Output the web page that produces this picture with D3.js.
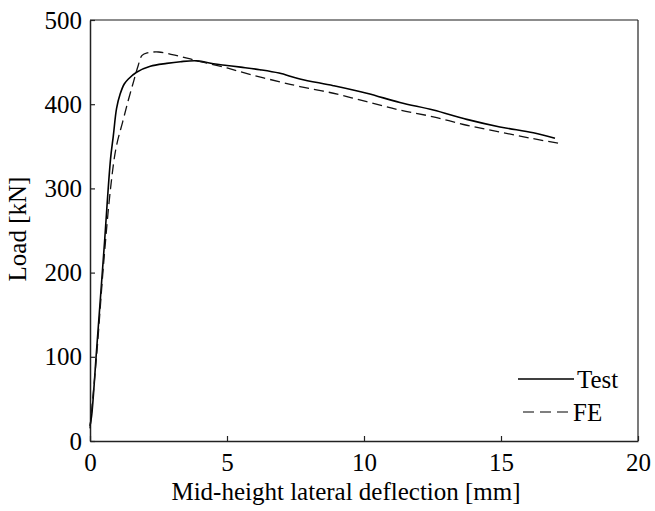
<!DOCTYPE html>
<html><head><meta charset="utf-8">
<script src="https://cdn.jsdelivr.net/npm/d3@7"></script>
<style>body{margin:0;background:#fff}</style>
</head><body>
<svg id="c" width="655" height="511"></svg>
<script>
const testX = [0, 0.06, 0.24, 0.51, 0.75, 0.85, 0.97, 1.1, 1.25, 1.4, 1.7, 2.2, 2.8, 3.3, 3.9, 4.5, 5.0, 5.5, 6.2, 6.9, 7.66, 8.88, 10.1, 11.31, 12.53, 13.75, 14.96, 16.18, 16.97];
const testY = [18, 30, 108, 227, 335, 362, 395, 412, 424, 430, 438, 445, 448.5, 450.5, 451.5, 448, 446, 444, 441, 437, 430, 422, 413, 402, 393, 382, 373, 366, 359.5];
const feX = [0, 0.25, 0.5, 0.75, 0.95, 1.2, 1.4, 1.6, 1.76, 1.9, 2.1, 2.5, 3.0, 3.5, 4.0, 5.0, 6.0, 7.0, 7.66, 8.88, 10.1, 11.31, 12.53, 13.75, 14.96, 16.18, 17.2];
const feY = [15, 105, 212, 300, 348, 380, 405, 428, 446, 458, 461, 462, 459, 455, 451, 443, 434, 426, 421, 413, 403, 393, 385, 375, 367, 359, 353];
const xTicks = [0, 5, 10, 15, 20];
const yTicks = [0, 100, 200, 300, 400, 500];
const seriesNames = ["Test", "FE"];

const svg = d3.select("#c");
const font = "Liberation Serif, Times New Roman, serif";
const L = 90, R = 638, T = 20, B = 441;
const x = d3.scaleLinear().domain([0, 20]).range([L, R]);
const y = d3.scaleLinear().domain([0, 500]).range([B, T]);

// box
svg.append("line").attr("x1", L).attr("x2", R).attr("y1", T).attr("y2", T).attr("stroke", "#666").attr("stroke-width", 1.5);
svg.append("line").attr("x1", R).attr("x2", R).attr("y1", T).attr("y2", B).attr("stroke", "#222").attr("stroke-width", 1.2);

const xAxis = svg.append("g").attr("transform", `translate(0,${B})`)
  .call(d3.axisBottom(x).tickValues(xTicks).tickSizeInner(-5).tickSizeOuter(0).tickPadding(12));
const yAxis = svg.append("g").attr("transform", `translate(${L},0)`)
  .call(d3.axisLeft(y).tickValues(yTicks).tickSizeInner(-5).tickSizeOuter(0).tickPadding(8));
[xAxis, yAxis].forEach(a => {
  a.select(".domain").attr("stroke", "#222").attr("stroke-width", 1.5);
  a.selectAll(".tick line").attr("stroke", "#222").attr("stroke-width", 1.2);
  a.selectAll("text").attr("font-family", font).attr("font-size", 25).attr("fill", "#000");
});

const testData = testX.map((v, i) => [v, testY[i]]);
const feData = feX.map((v, i) => [v, feY[i]]);
svg.append("path").datum(testData).attr("d", d3.line().x(d => x(d[0])).y(d => y(d[1])).curve(d3.curveCatmullRom))
  .attr("fill", "none").attr("stroke", "#000").attr("stroke-width", 1.6);
svg.append("path").datum(feData).attr("d", d3.line().x(d => x(d[0])).y(d => y(d[1])).curve(d3.curveCatmullRom))
  .attr("fill", "none").attr("stroke", "#111").attr("stroke-width", 1.3).attr("stroke-dasharray", "10,5");

// axis titles
svg.append("text").attr("x", 346).attr("y", 500).attr("text-anchor", "middle")
  .attr("font-family", font).attr("font-size", 25).text("Mid-height lateral deflection [mm]");
svg.append("text").attr("transform", `translate(26,229) rotate(-90)`).attr("text-anchor", "middle")
  .attr("font-family", font).attr("font-size", 25).text("Load [kN]");

// legend
const lg = svg.append("g");
lg.append("line").attr("x1", 518).attr("x2", 574).attr("y1", 379).attr("y2", 379).attr("stroke", "#000").attr("stroke-width", 1.4);
lg.append("text").attr("x", 577).attr("y", 388).attr("font-family", font).attr("font-size", 25).text(seriesNames[0]);
lg.append("line").attr("x1", 523).attr("x2", 572).attr("y1", 412).attr("y2", 412).attr("stroke", "#000").attr("stroke-width", 1.2).attr("stroke-dasharray", "11,6");
lg.append("text").attr("x", 573).attr("y", 421).attr("font-family", font).attr("font-size", 25).text(seriesNames[1]);
</script>
</body></html>
